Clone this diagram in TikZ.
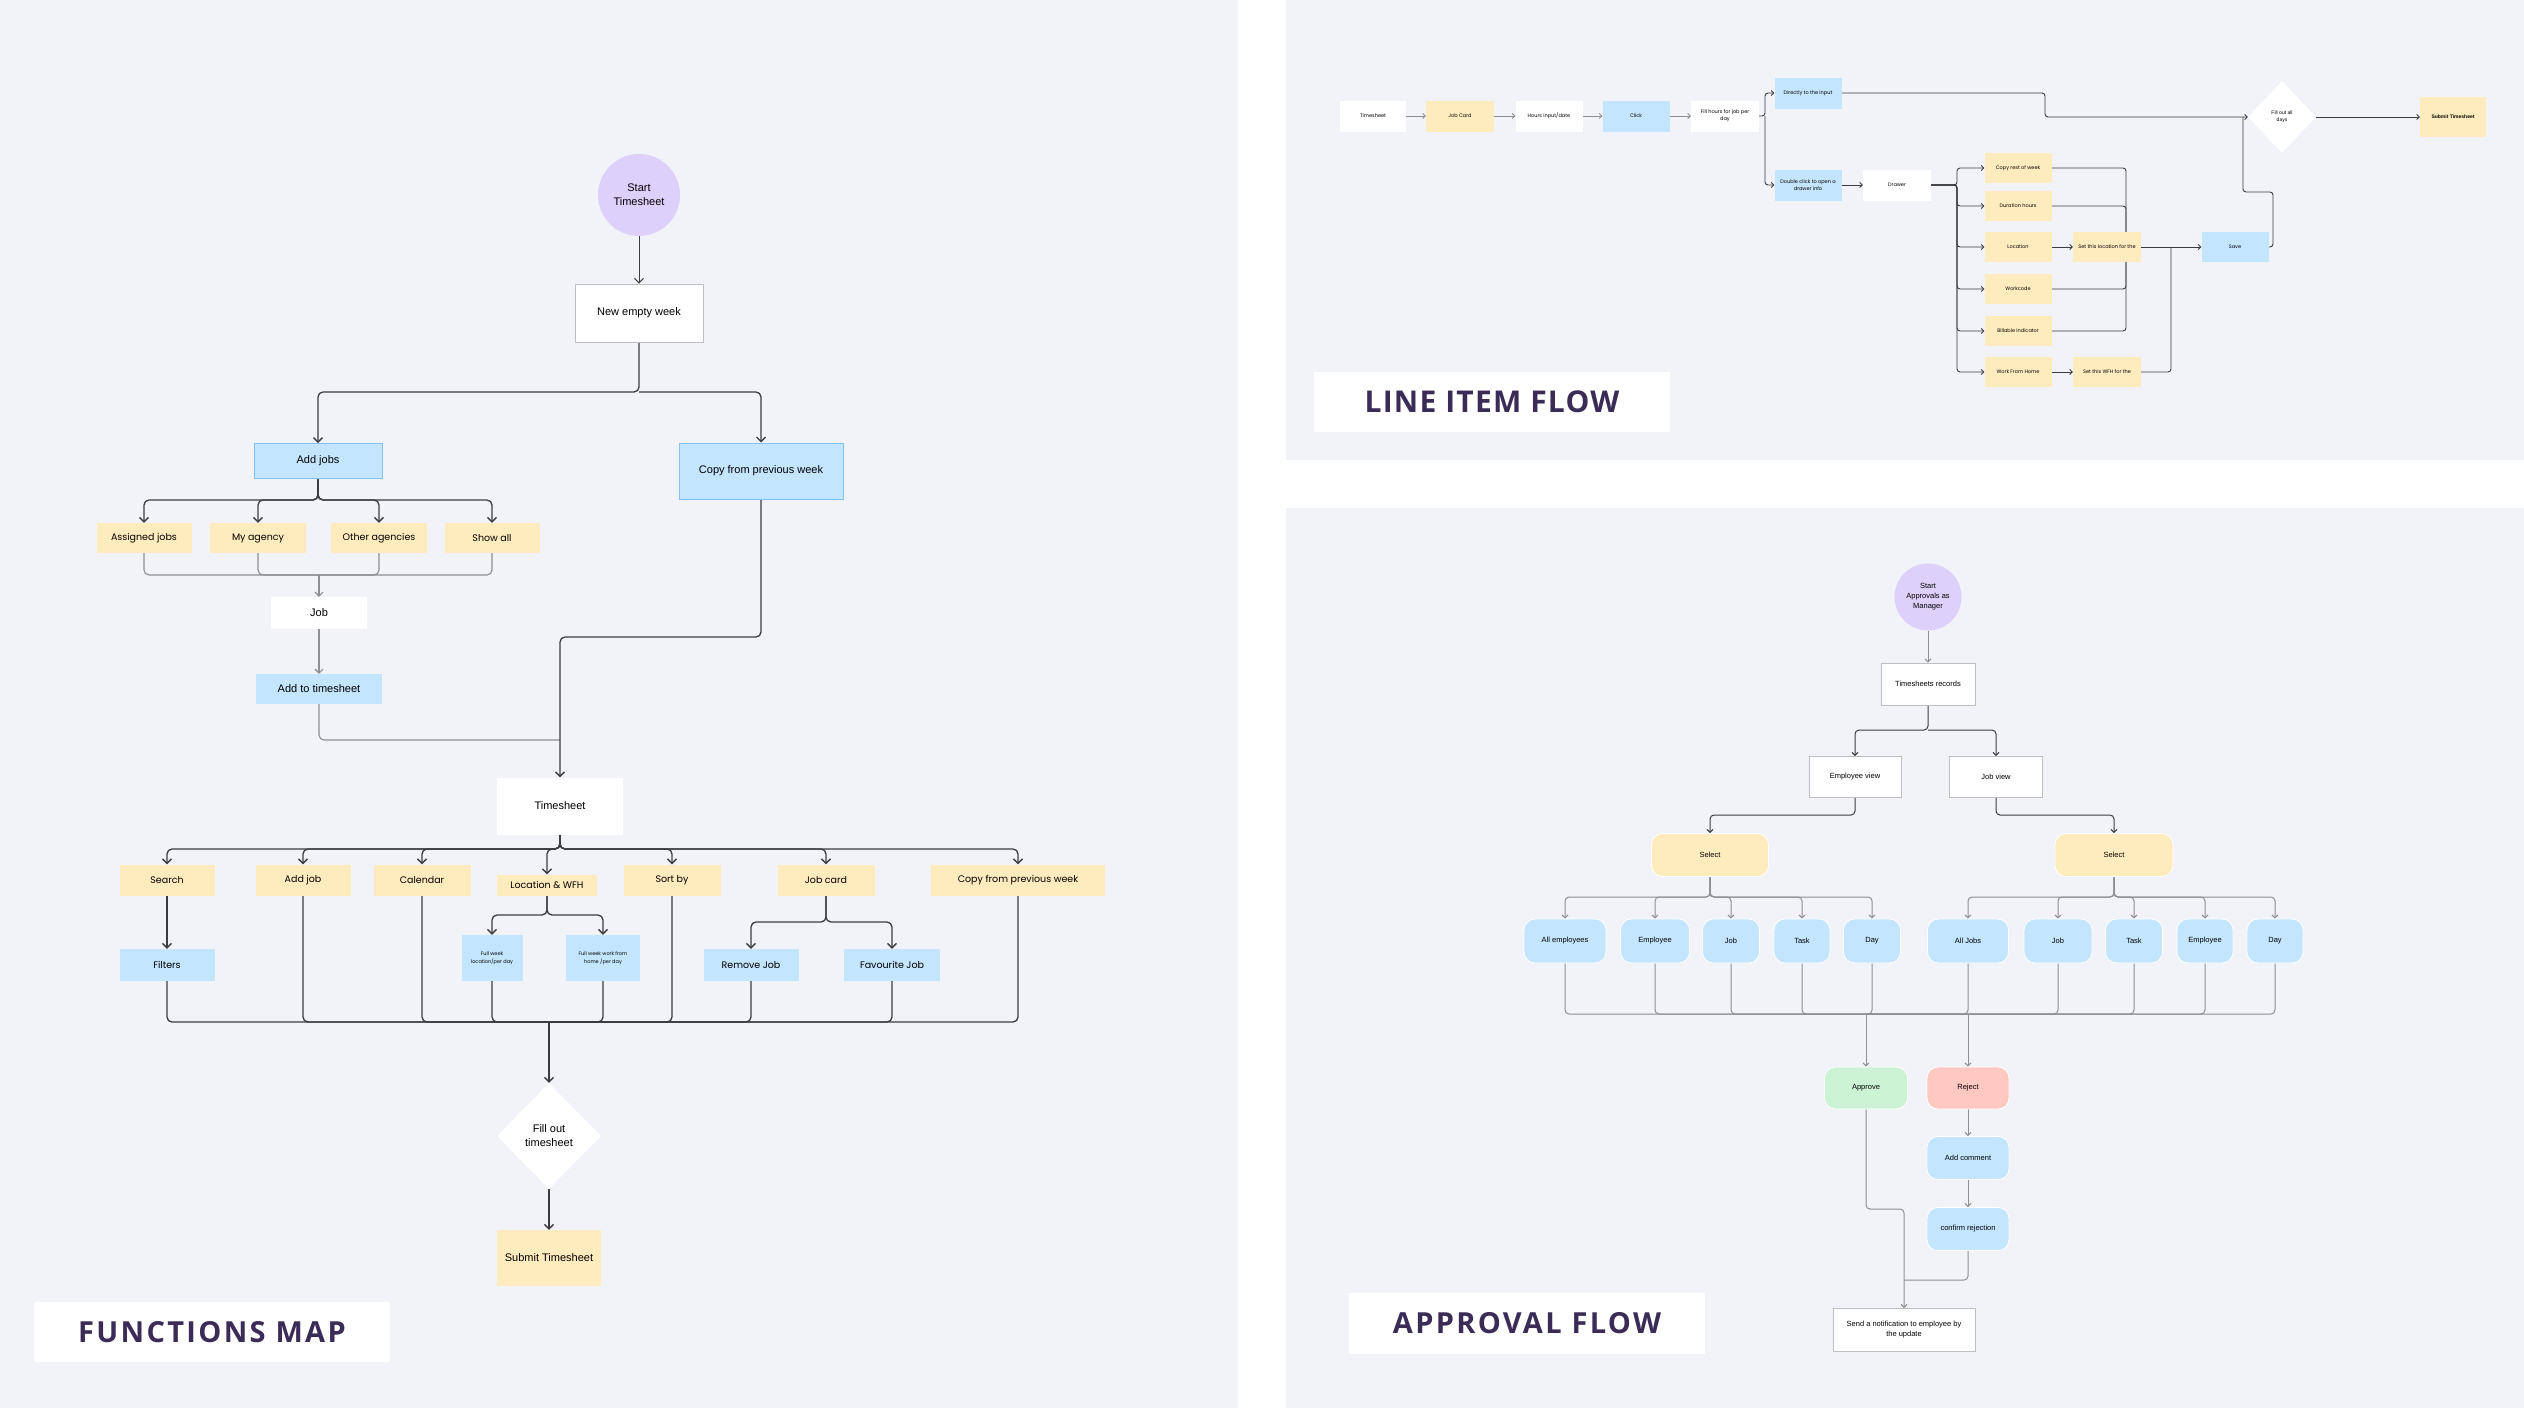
\documentclass[tikz,border=0pt]{standalone}
\usepackage{fontspec}
\setmainfont{Liberation Sans}
\newfontfamily\notefont{Poppins}
\newfontfamily\headfont[LetterSpace=8]{Open Sans}
\newfontfamily\headfontb[LetterSpace=4]{Open Sans}
\usetikzlibrary{arrows.meta,shapes.geometric}

\definecolor{panelbg}{HTML}{F2F3F8}
\definecolor{lavender}{HTML}{DDD0FB}
\definecolor{noteyellow}{HTML}{FFECBE}
\definecolor{noteblue}{HTML}{C3E5FD}
\definecolor{blueedge}{HTML}{7FC2F3}
\definecolor{notegreen}{HTML}{CDF3D5}
\definecolor{notepink}{HTML}{FFC8C0}
\definecolor{boxedge}{HTML}{BDBDC2}
\definecolor{linedark}{HTML}{3C3C40}
\definecolor{linegrey}{HTML}{8E8E93}
\definecolor{headink}{HTML}{3A2C56}

\pgfdeclarelayer{panels}
\pgfdeclarelayer{edges}
\pgfsetlayers{panels,edges,main}

\tikzset{
  sz/.style 2 args={minimum width=#1, minimum height=#2},
  whitebox/.style={rectangle, draw=boxedge, line width=0.8pt, fill=white, align=center, inner sep=1pt},
  plainbox/.style={rectangle, fill=white, align=center, inner sep=1pt},
  yellownote/.style={rectangle, fill=noteyellow, align=center, inner sep=1pt},
  bluenote/.style={rectangle, fill=noteblue, align=center, inner sep=1pt},
  blueframe/.style={bluenote, draw=blueedge, line width=1pt},
  fmsticky/.style={yellownote, font=\notefont\fontsize{9.5}{12}\selectfont},
  fmblue/.style={bluenote, font=\notefont\fontsize{9.5}{12}\selectfont},
  tinyblue/.style={bluenote, font=\notefont\fontsize{5}{8}\selectfont},
  startcircle/.style={circle, fill=lavender, align=center, inner sep=0pt},
  decision/.style={diamond, fill=white, align=center, inner sep=0pt},
  pill/.style={rounded corners=11pt, draw=white, line width=0.8pt, align=center, inner sep=1pt},
  titlebox/.style={rectangle, fill=white, text=headink},
  conn/.style={draw=linedark, line width=1.3pt, rounded corners=5pt, -{Straight Barb[length=4.5pt,width=9pt]}},
  link/.style={draw=linedark, line width=1.3pt, rounded corners=5pt},
  greyconn/.style={draw=linegrey, line width=1.1pt, rounded corners=5pt, -{Straight Barb[length=4pt,width=8pt]}},
  greylink/.style={draw=linegrey, line width=1.1pt, rounded corners=5pt},
  liconn/.style={draw=linedark, line width=0.9pt, rounded corners=3pt, -{Straight Barb[length=2.5pt,width=5pt]}},
  lilink/.style={draw=linedark, line width=0.9pt, rounded corners=3pt},
  apconn/.style={draw=linegrey, line width=1pt, rounded corners=4pt, -{Straight Barb[length=3pt,width=6pt]}},
  aplink/.style={draw=linegrey, line width=1pt, rounded corners=4pt},
}

\begin{document}
\begin{tikzpicture}[x=1pt, y=-1pt]
  \useasboundingbox (0,0) rectangle (2524,1408);
  \begin{pgfonlayer}{panels}
    \fill[white] (0,0) rectangle (2524,1408);
    \fill[panelbg] (0,0) rectangle (1238,1408);
    \fill[panelbg] (1286,0) rectangle (2524,460);
    \fill[panelbg] (1286,508) rectangle (2524,1408);
  \end{pgfonlayer}

  % functions map
  \begin{scope}[every node/.style={font=\fontsize{11}{14}\selectfont}]
    \node[startcircle, minimum size=82] (fmstart) at (639,195) {Start\\Timesheet};
    \node[whitebox, sz={128}{58}] (newweek) at (639,313) {New empty week};
    \node[blueframe, sz={128}{35}] (addjobs) at (318,461) {Add jobs};
    \node[blueframe, sz={164}{56}] (copyweek) at (761,471) {Copy from previous week};

    \node[fmsticky, sz={95}{30}] (assigned) at (144,538) {Assigned jobs};
    \node[fmsticky, sz={96}{30}] (myagency) at (258,538) {My agency};
    \node[fmsticky, sz={96}{30}] (otheragencies) at (379,538) {Other agencies};
    \node[fmsticky, sz={95}{30}] (showall) at (492,538) {Show all};
    \node[plainbox, sz={96}{32}] (job) at (319,613) {Job};
    \node[bluenote, sz={126}{30}] (addtots) at (319,689) {Add to timesheet};

    \node[plainbox, sz={126}{57}] (timesheet) at (560,806) {Timesheet};
    \node[fmsticky, sz={95}{31}] (search) at (167,880) {Search};
    \node[fmsticky, sz={95}{31}] (addjob) at (303,880) {Add job};
    \node[fmsticky, sz={97}{31}] (calendar) at (422,880) {Calendar};
    \node[fmsticky, sz={100}{21}] (locwfh) at (547,885) {Location \& WFH};
    \node[fmsticky, sz={97}{31}] (sortby) at (672,880) {Sort by};
    \node[fmsticky, sz={97}{31}] (jobcard) at (826,880) {Job card};
    \node[fmsticky, sz={174}{31}] (copyprev) at (1018,880) {Copy from previous week};

    \node[fmblue, sz={95}{32}] (filters) at (167,965) {Filters};
    \node[tinyblue, sz={61}{46}] (fullloc) at (492,958) {Full week\\location/per day};
    \node[tinyblue, sz={74}{46}] (fullwfh) at (603,958) {Full week work from\\home /per day};
    \node[fmblue, sz={95}{32}] (removejob) at (751,965) {Remove Job};
    \node[fmblue, sz={96}{32}] (favjob) at (892,965) {Favourite Job};

    \node[decision, minimum width=104, minimum height=106] (fillout) at (549,1136) {Fill out\\timesheet};
    \node[yellownote, sz={104}{56}] (submit) at (549,1258) {Submit Timesheet};

    \coordinate (fmsplitA) at (639,392);
    \coordinate (fmsplitB) at (318,500);
    \coordinate (fmmergeA) at (319,575);
    \coordinate (fmjoin) at (560,740);
    \coordinate (fmbend) at (560,637);
    \coordinate (fmsplitC) at (560,849);
    \coordinate (fmsplitD) at (547,915);
    \coordinate (fmsplitE) at (826,922);
    \coordinate (fmmergeC) at (549,1022);

    \node[titlebox, sz={356}{60}, font=\headfont\bfseries\fontsize{29}{34}\selectfont] (fmtitle) at (212,1332) {FUNCTIONS MAP};
  \end{scope}

  \begin{pgfonlayer}{edges}
    \draw[conn, line width=1pt] (fmstart) -- (newweek);
    \draw[conn] (newweek.south) -- (fmsplitA) -| (addjobs.north);
    \draw[conn] (fmsplitA) -| (copyweek.north);
    \foreach \n in {assigned,myagency,otheragencies,showall}
      \draw[conn] (addjobs.south) -- (fmsplitB) -| (\n.north);
    \foreach \n in {assigned,myagency,otheragencies,showall}
      \draw[greylink] (\n.south) |- (fmmergeA);
    \draw[greyconn] (fmmergeA) -- (job);
    \draw[greyconn] (job) -- (addtots);
    \draw[greylink] (addtots.south) |- (fmjoin);
    \draw[conn] (copyweek.south) |- (fmbend) -- (timesheet.north);
    \foreach \n in {search,addjob,calendar,locwfh,sortby,jobcard,copyprev}
      \draw[conn] (timesheet.south) -- (fmsplitC) -| (\n.north);
    \draw[conn] (search) -- (filters);
    \foreach \n in {fullloc,fullwfh}
      \draw[conn] (locwfh.south) -- (fmsplitD) -| (\n.north);
    \foreach \n in {removejob,favjob}
      \draw[conn] (jobcard.south) -- (fmsplitE) -| (\n.north);
    \foreach \n in {filters,addjob,calendar,fullloc,fullwfh,sortby,removejob,favjob,copyprev}
      \draw[link] (\n.south) |- (fmmergeC);
    \draw[conn] (fmmergeC) -- (fillout.north);
    \draw[conn] (fillout.south) -- (submit.north);
  \end{pgfonlayer}

  % line item flow
  \begin{scope}[every node/.style={font=\notefont\fontsize{5}{7}\selectfont}]
    \node[plainbox, sz={66}{31}] (lits) at (1373,116) {Timesheet};
    \node[yellownote, sz={68}{31}] (lijobcard) at (1460,116) {Job Card};
    \node[plainbox, sz={67}{31}] (lihours) at (1549,116) {Hours input/date};
    \node[bluenote, sz={67}{31}] (liclick) at (1636,116) {Click};
    \node[plainbox, sz={68}{31}] (lifill) at (1725,116) {Fill hours for job per\\day};
    \node[bluenote, sz={67}{31}] (lidirect) at (1808,93) {Directly to the input};
    \node[bluenote, sz={67}{31}] (lidouble) at (1808,185) {Double click to open a\\drawer info};
    \node[plainbox, sz={68}{31}] (lidrawer) at (1897,185) {Drawer};

    \node[yellownote, sz={67}{30}] (licopy) at (2018,168) {Copy rest of week};
    \node[yellownote, sz={67}{30}] (liduration) at (2018,206) {Duration hours};
    \node[yellownote, sz={67}{30}] (lilocation) at (2018,247) {Location};
    \node[yellownote, sz={67}{30}] (liworkcode) at (2018,289) {Workcode};
    \node[yellownote, sz={67}{30}] (libillable) at (2018,331) {Billable indicator};
    \node[yellownote, sz={67}{30}] (liwfh) at (2018,372) {Work From Home};
    \node[yellownote, sz={68}{30}] (lisetloc) at (2107,247) {Set this location for the};
    \node[yellownote, sz={68}{30}] (lisetwfh) at (2107,372) {Set this WFH for the};
    \node[bluenote, sz={67}{30}] (lisave) at (2235,247) {Save};

    \node[decision, minimum width=68, minimum height=72, font=\fontsize{5}{7}\selectfont] (lifillall) at (2282,117) {Fill out all\\days};
    \node[yellownote, sz={66}{40}, font=\bfseries\fontsize{5}{7}\selectfont] (lisubmit) at (2453,117) {Submit Timesheet};

    \coordinate (lisplitA) at (1765,116);
    \coordinate (libend) at (2045,117);
    \coordinate (lisplitB) at (1957,185);
    \coordinate (limergeA) at (2126,247);
    \coordinate (limergeB) at (2171,247);
    \coordinate (liloopA) at (2273,192);
    \coordinate (liloopB) at (2243,117);

    \node[titlebox, sz={356}{60}, font=\headfontb\bfseries\fontsize{30}{34}\selectfont] (lititle) at (1492,402) {LINE ITEM FLOW};
  \end{scope}

  \begin{pgfonlayer}{edges}
    \foreach \a/\b in {lits/lijobcard,lijobcard/lihours,lihours/liclick,liclick/lifill}
      \draw[liconn, draw=linegrey] (\a) -- (\b);
    \draw[liconn] (lifill.east) -- (lisplitA) |- (lidirect.west);
    \draw[liconn] (lisplitA) |- (lidouble.west);
    \draw[liconn] (lidouble) -- (lidrawer);
    \draw[liconn] (lidirect.east) -| (libend) -- (lifillall.west);
    \foreach \n in {licopy,liduration,lilocation,liworkcode,libillable,liwfh}
      \draw[liconn] (lidrawer.east) -- (lisplitB) |- (\n.west);
    \draw[liconn] (lilocation) -- (lisetloc);
    \draw[liconn] (liwfh) -- (lisetwfh);
    \draw[liconn] (lisetloc) -- (lisave);
    \foreach \n in {licopy,liduration,liworkcode,libillable}
      \draw[lilink] (\n.east) -| (limergeA);
    \draw[lilink] (lisetwfh.east) -| (limergeB);
    \draw[lilink] (lisave.east) -| (liloopA) -| (liloopB);
    \draw[liconn] (lifillall) -- (lisubmit);
  \end{pgfonlayer}

  % approval flow
  \begin{scope}[every node/.style={font=\fontsize{7.5}{10}\selectfont}]
    \node[startcircle, minimum size=67] (apstart) at (1928,597) {Start\\Approvals as\\Manager};
    \node[whitebox, sz={94}{42}] (aprecords) at (1928,684) {Timesheets records};
    \node[whitebox, sz={92}{41}] (apempview) at (1855,777) {Employee view};
    \node[whitebox, sz={93}{41}] (apjobview) at (1996,777) {Job view};
    \node[pill, fill=noteyellow, sz={117}{43}] (apselectA) at (1710,855) {Select};
    \node[pill, fill=noteyellow, sz={118}{43}] (apselectB) at (2114,855) {Select};

    \node[pill, fill=noteblue, sz={82}{44}] (apallemp) at (1565,941) {All employees};
    \node[pill, fill=noteblue, sz={69}{44}] (apempA) at (1655,941) {Employee};
    \node[pill, fill=noteblue, sz={57}{44}] (apjobA) at (1731,941) {Job};
    \node[pill, fill=noteblue, sz={56}{44}] (aptaskA) at (1802,941) {Task};
    \node[pill, fill=noteblue, sz={57}{44}] (apdayA) at (1872,941) {Day};
    \node[pill, fill=noteblue, sz={81}{44}] (apalljobs) at (1968,941) {All Jobs};
    \node[pill, fill=noteblue, sz={68}{44}] (apjobB) at (2058,941) {Job};
    \node[pill, fill=noteblue, sz={57}{44}] (aptaskB) at (2134,941) {Task};
    \node[pill, fill=noteblue, sz={56}{44}] (apempB) at (2205,941) {Employee};
    \node[pill, fill=noteblue, sz={56}{44}] (apdayB) at (2275,941) {Day};

    \node[pill, fill=notegreen, sz={83}{42}] (apapprove) at (1866,1088) {Approve};
    \node[pill, fill=notepink, sz={82}{42}] (apreject) at (1968,1088) {Reject};
    \node[pill, fill=noteblue, sz={82}{43}] (apcomment) at (1968,1158) {Add comment};
    \node[pill, fill=noteblue, sz={82}{43}] (apconfirm) at (1968,1229) {confirm rejection};
    \node[whitebox, sz={142}{43}] (apnotify) at (1904,1330) {Send a notification to employee by\\the update};

    \coordinate (apsplitA) at (1928,730);
    \coordinate (apbendA) at (1710,815);
    \coordinate (apbendB) at (2114,815);
    \coordinate (apsplitB) at (1710,897);
    \coordinate (apsplitC) at (2114,897);
    \coordinate (apmergeA) at (1866,1014);
    \coordinate (apmergeB) at (1968,1014);
    \coordinate (apbendC) at (1904,1209);
    \coordinate (apbendD) at (1904,1280);

    \node[titlebox, sz={356}{61}, font=\headfont\bfseries\fontsize{29}{34}\selectfont] (aptitle) at (1527,1323) {APPROVAL FLOW};
  \end{scope}

  \begin{pgfonlayer}{edges}
    \draw[apconn] (apstart) -- (aprecords);
    \draw[apconn, draw=linedark] (aprecords.south) -- (apsplitA) -| (apempview.north);
    \draw[apconn, draw=linedark] (apsplitA) -| (apjobview.north);
    \draw[apconn, draw=linedark] (apempview.south) |- (apbendA) -- (apselectA.north);
    \draw[apconn, draw=linedark] (apjobview.south) |- (apbendB) -- (apselectB.north);
    \foreach \n in {apallemp,apempA,apjobA,aptaskA,apdayA}
      \draw[apconn] (apselectA.south) -- (apsplitB) -| (\n.north);
    \foreach \n in {apalljobs,apjobB,aptaskB,apempB,apdayB}
      \draw[apconn] (apselectB.south) -- (apsplitC) -| (\n.north);
    \foreach \n in {apallemp,apempA,apjobA,aptaskA,apdayA,apalljobs,apjobB,aptaskB,apempB,apdayB}
      \draw[aplink] (\n.south) |- (apmergeA);
    \draw[apconn] (apmergeA) -- (apapprove);
    \draw[apconn] (apmergeB) -- (apreject);
    \draw[apconn] (apreject) -- (apcomment);
    \draw[apconn] (apcomment) -- (apconfirm);
    \draw[apconn] (apapprove.south) |- (apbendC) -- (apnotify.north);
    \draw[aplink] (apconfirm.south) |- (apbendD);
  \end{pgfonlayer}
\end{tikzpicture}
\end{document}
